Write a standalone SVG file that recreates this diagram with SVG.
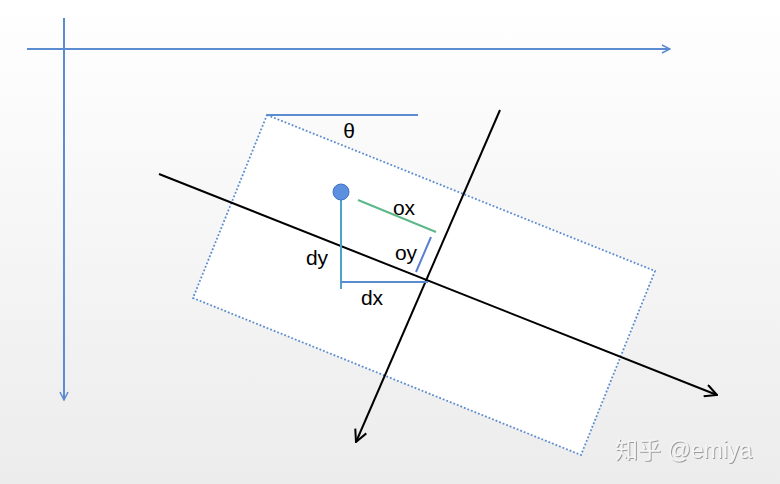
<svg xmlns="http://www.w3.org/2000/svg" width="780" height="484" viewBox="0 0 780 484">
<defs>
<linearGradient id="bg" x1="0" y1="0" x2="0" y2="1">
<stop offset="0" stop-color="#ffffff"/>
<stop offset="1" stop-color="#ececec"/>
</linearGradient>
<marker id="ab" viewBox="0 0 10 10" refX="9" refY="5" markerWidth="10" markerHeight="10" markerUnits="userSpaceOnUse" orient="auto">
<path d="M1,1 L9,5 L1,9" fill="none" stroke="#5b8bd0" stroke-width="1.5"/>
</marker>
<marker id="ak" viewBox="0 0 14 14" refX="13" refY="7" markerWidth="14" markerHeight="14" markerUnits="userSpaceOnUse" orient="auto">
<path d="M1,1 L13,7 L1,13" fill="none" stroke="#000" stroke-width="2"/>
</marker>
<filter id="sh" x="-10%" y="-20%" width="130%" height="150%">
<feDropShadow dx="1" dy="1" stdDeviation="0.6" flood-color="#888" flood-opacity="0.8"/>
</filter>
</defs>
<style>
.t{font-family:"Liberation Sans",Arial,sans-serif;font-size:21px;fill:#000}
.wm{font-family:"Liberation Sans","Noto Sans CJK SC",sans-serif;font-size:23px;fill:#f4f4f4}
</style>
<rect width="780" height="484" fill="url(#bg)"/>
<g id="box">
<polygon points="267,115 655,271 581,455 193,298" fill="#ffffff" stroke="#5b8bd0" stroke-width="1.8" stroke-dasharray="1.8,2"/>
</g>
<g id="connectors">
<line x1="27" y1="49" x2="670" y2="49" stroke="#5b8bd0" stroke-width="2" marker-end="url(#ab)"/>
<line x1="64" y1="18" x2="64" y2="400" stroke="#5b8bd0" stroke-width="2" marker-end="url(#ab)"/>
<line x1="267" y1="115" x2="418" y2="115" stroke="#5b8bd0" stroke-width="2"/>
<line x1="159" y1="174" x2="717" y2="395" stroke="#000" stroke-width="2" marker-end="url(#ak)"/>
<line x1="500" y1="110" x2="356" y2="442" stroke="#000" stroke-width="2" marker-end="url(#ak)"/>
<line x1="341" y1="200" x2="341" y2="289" stroke="#4fa3c8" stroke-width="2"/>
<line x1="341" y1="282" x2="428" y2="282" stroke="#5b8bd0" stroke-width="2"/>
<line x1="358" y1="200" x2="436" y2="232" stroke="#5cb88a" stroke-width="2"/>
<line x1="431" y1="237" x2="416" y2="272" stroke="#5b7fd0" stroke-width="2"/>
</g>
<g id="center">
<circle cx="341" cy="192" r="8" fill="#5b8fe0" stroke="#4472c4" stroke-width="1"/>
</g>
<g id="labels">
<text class="t" x="349" y="138" text-anchor="middle">θ</text>
<text class="t" x="404" y="215" text-anchor="middle">ox</text>
<text class="t" x="406" y="260" text-anchor="middle">oy</text>
<text class="t" x="317" y="265" text-anchor="middle">dy</text>
<text class="t" x="372" y="305" text-anchor="middle">dx</text>
</g>
<g id="watermark">
<text class="wm" x="615" y="458" filter="url(#sh)">知乎 @emiya</text>
</g>
</svg>
